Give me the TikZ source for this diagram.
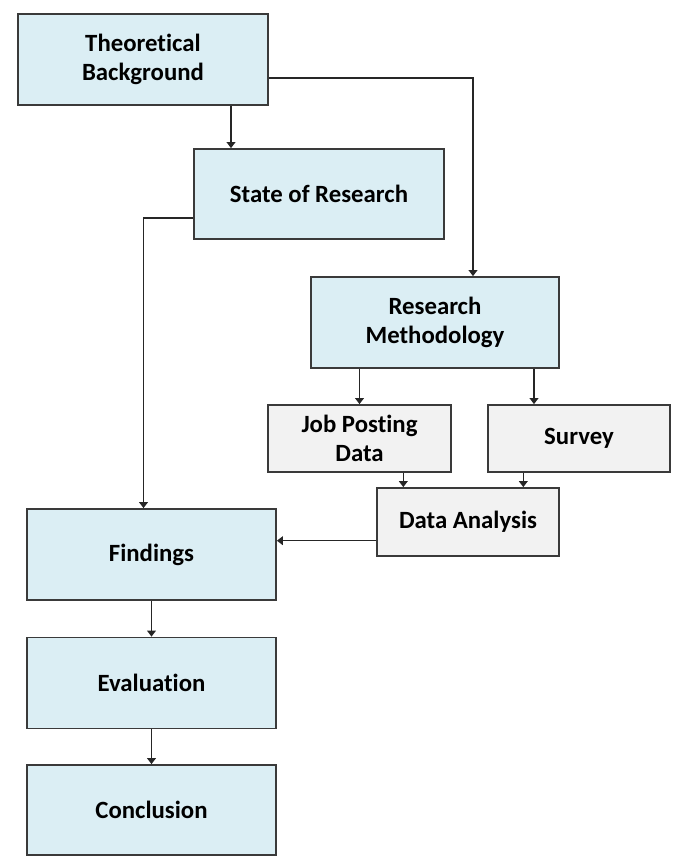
\documentclass[tikz,border=0pt]{standalone}
\usepackage{fontspec}
\setmainfont{Carlito}[Ligatures=NoCommon]
\usetikzlibrary{calc,arrows.meta}
\definecolor{bluefill}{HTML}{DBEEF4}
\definecolor{grayfill}{HTML}{F2F2F2}
\definecolor{edge}{HTML}{3A3A3A}
\begin{document}
\begin{tikzpicture}[x=0.75pt,y=-0.75pt,
  box/.style={draw=edge,line width=1.3pt,align=center,inner sep=0pt,
    font=\fontsize{18.6}{21.8}\selectfont\bfseries,text=black},
  bluebox/.style={box,fill=bluefill},
  graybox/.style={box,fill=grayfill},
  arr/.style={draw=black!85,line width=1.1pt,-{Triangle[width=6.5pt,length=4.5pt]}}]
\useasboundingbox (0,0) rectangle (685,868);
\node[bluebox,minimum width=187.5pt,minimum height=68.25pt] (TB) at (143,59.5) {Theoretical\\Background};
\node[bluebox,minimum width=187.5pt,minimum height=67.5pt] (SoR) at (319,194) {State of Research};
\node[bluebox,minimum width=186pt,minimum height=68.25pt] (RM) at (435,322.5) {Research\\Methodology};
\node[graybox,minimum width=137.25pt,minimum height=50.25pt] (JP) at (359.5,438.5) {Job Posting\\Data};
\node[graybox,minimum width=136.5pt,minimum height=50.25pt] (SV) at (579,438.5) {Survey};
\node[graybox,minimum width=136.5pt,minimum height=51pt] (DA) at (468,522) {Data Analysis};
\node[bluebox,minimum width=186.75pt,minimum height=68.25pt] (FI) at (151.5,554.5) {Findings};
\node[bluebox,minimum width=186.75pt,minimum height=68.25pt] (EV) at (151.5,683) {Evaluation};
\node[bluebox,minimum width=186.75pt,minimum height=67.5pt] (CO) at (151.5,810) {Conclusion};
\coordinate (a1) at ($(TB.south)+(88,0)$);
\coordinate (a2) at ($(RM.south)+(99,0)$);
\coordinate (a3) at ($(DA.north)+(-64.7,0)$);
\coordinate (a4) at ($(DA.north)+(55.3,0)$);
\coordinate (a5) at ($(DA.west)+(0,18.7)$);
\coordinate (a6) at ($(TB.east)+(0,18.5)$);
\coordinate (a7) at ($(RM.north)+(38,0)$);
\coordinate (a8) at ($(SoR.west)+(0,24)$);
\coordinate (a9) at ($(FI.north)+(-8,0)$);
\draw[arr] (a1) -- (a1 |- SoR.north);
\draw[arr] (a6) -| (a7);
\draw[arr] (a8) -| (a9);
\draw[arr] (RM.south -| JP.north) -- (JP.north);
\draw[arr] (a2) -- (a2 |- SV.north);
\draw[arr] (a3 |- JP.south) -- (a3);
\draw[arr] (a4 |- SV.south) -- (a4);
\draw[arr] (a5) -- (a5 -| FI.east);
\draw[arr] (FI.south) -- (EV.north);
\draw[arr] (EV.south) -- (CO.north);
\end{tikzpicture}
\end{document}
